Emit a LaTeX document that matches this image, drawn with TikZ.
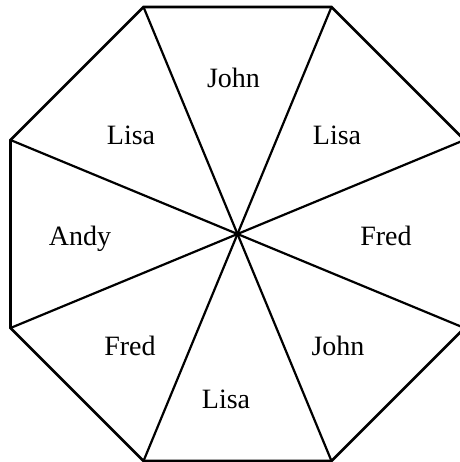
\documentclass[tikz,border=0pt]{standalone}
\usepackage{fontspec}
\setmainfont{Liberation Serif}
\usepackage{tikz}
\usetikzlibrary{positioning}
\tikzset{
  rim/.style={draw, line width=1.3pt, line join=miter},
  spoke/.style={draw, line width=1.1pt},
  who/.style={anchor=base, inner sep=0pt, font=\fontsize{14}{16}\selectfont}
}

\begin{document}
\begin{tikzpicture}[x=0.5pt, y=-0.5pt]
  \useasboundingbox (0,0) rectangle (460,462);
  \clip (0,0) rectangle (460,462);

  \coordinate (c) at (237.5, 234);
  \coordinate (tl) at (143.5, 7);
  \coordinate (tr) at (331.5, 7);
  \coordinate (rt) at (464.5, 140);
  \coordinate (rb) at (464.5, 328);
  \coordinate (br) at (331.5, 461);
  \coordinate (bl) at (143.5, 461);
  \coordinate (lb) at (10.5, 328);
  \coordinate (lt) at (10.5, 140);

  % spokes from the middle
  \foreach \v in {tl, tr, rt, rb, br, bl, lb, lt}
    \draw[spoke] (c) -- (\v);

  % outline
  \draw[rim] (tl) -- (tr) -- (rt) -- (rb) -- (br) -- (bl) -- (lb) -- (lt) -- cycle;

  \node[who] (john1) at (233.5, 87) {John};
  \node[who] (lisa1) at (131, 144) {Lisa};
  \node[who] (lisa2) at (337, 144) {Lisa};
  \node[who] (andy)  at (80, 245) {Andy};
  \node[who] (fred1) at (386, 245) {Fred};
  \node[who] (fred2) at (130, 355) {Fred};
  \node[who] (john2) at (338, 355) {John};
  \node[who] (lisa3) at (226, 408) {Lisa};
\end{tikzpicture}
\end{document}
